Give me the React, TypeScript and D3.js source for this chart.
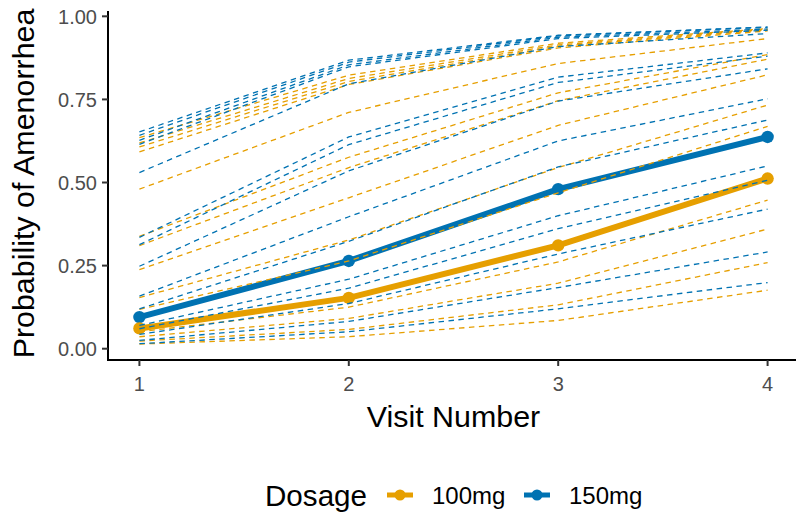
import * as d3 from "d3";

// visits on the x axis
const visits = [1, 2, 3, 4];
const yTicks = [0, 0.25, 0.5, 0.75, 1];
const doseLabels = ["100mg", "150mg"];
const doseColors = ["#E69F00", "#0072B2"];

// population-level fitted curves (thick lines)
const mean100 = [0.061, 0.153, 0.311, 0.512];
const mean150 = [0.095, 0.264, 0.48, 0.637];

// subject-level curves (dashed), 100mg
const subj100 = [
  [0.635, 0.823, 0.919, 0.963],
  [0.619, 0.813, 0.914, 0.961],
  [0.607, 0.804, 0.91, 0.959],
  [0.592, 0.795, 0.905, 0.956],
  [0.48, 0.711, 0.858, 0.933],
  [0.338, 0.576, 0.77, 0.885],
  [0.31, 0.545, 0.746, 0.871],
  [0.238, 0.454, 0.672, 0.824],
  [0.154, 0.327, 0.545, 0.733],
  [0.118, 0.264, 0.469, 0.669],
  [0.062, 0.155, 0.316, 0.517],
  [0.051, 0.125, 0.261, 0.447],
  [0.036, 0.091, 0.197, 0.36],
  [0.023, 0.058, 0.132, 0.259],
  [0.014, 0.036, 0.085, 0.176],
];

// subject-level curves (dashed), 150mg
const subj150 = [
  [0.652, 0.868, 0.943, 0.968],
  [0.642, 0.862, 0.941, 0.967],
  [0.627, 0.854, 0.937, 0.962],
  [0.615, 0.848, 0.933, 0.958],
  [0.53, 0.797, 0.909, 0.948],
  [0.335, 0.637, 0.817, 0.89],
  [0.313, 0.614, 0.801, 0.88],
  [0.248, 0.535, 0.745, 0.842],
  [0.158, 0.397, 0.625, 0.752],
  [0.12, 0.323, 0.547, 0.688],
  [0.07, 0.209, 0.4, 0.55],
  [0.06, 0.182, 0.361, 0.507],
  [0.043, 0.136, 0.285, 0.42],
  [0.025, 0.082, 0.184, 0.291],
  [0.015, 0.051, 0.12, 0.199],
];

const W = 796;
const H = 513;
const FONT = "'Liberation Sans', Arial, Helvetica, sans-serif";

export default function App() {
  const panel = { left: 108, right: 799, top: 11, bottom: 360 };

  const x = d3.scaleLinear().domain([0.85, 4.15]).range([panel.left, panel.right]);
  const y = d3.scaleLinear().domain([-0.034, 1.016]).range([panel.bottom, panel.top]);

  const line = d3
    .line<number>()
    .x((_, i) => x(visits[i]))
    .y((d) => y(d));

  const means = [mean100, mean150];
  const subjects = [subj100, subj150];

  return (
    <svg
      width={W}
      height={H}
      style={{ position: "absolute", left: 0, top: 0, background: "#fff" }}
      fontFamily={FONT}
    >
      {/* thick population curves + points */}
      {means.map((m, k) => (
        <path
          key={"m" + k}
          d={line(m) ?? ""}
          fill="none"
          stroke={doseColors[k]}
          strokeWidth={6}
        />
      ))}
      {[1, 0].map((k) =>
        means[k].map((v, i) => (
          <circle
            key={`p${k}-${i}`}
            cx={x(visits[i])}
            cy={y(v)}
            r={6.2}
            fill={doseColors[k]}
          />
        )),
      )}

      {/* subject curves, dashed */}
      {subjects.map((group, k) =>
        group.map((s, j) => (
          <path
            key={`s${k}-${j}`}
            d={line(s) ?? ""}
            fill="none"
            stroke={doseColors[k]}
            strokeWidth={1.3}
            strokeDasharray="5.5 4.5"
          />
        )),
      )}

      {/* axes */}
      <line x1={panel.left} x2={panel.left} y1={panel.top} y2={panel.bottom + 1} stroke="#000" strokeWidth={2} />
      <line x1={panel.left - 1} x2={panel.right} y1={panel.bottom} y2={panel.bottom} stroke="#000" strokeWidth={2} />

      {yTicks.map((t) => (
        <g key={"yt" + t}>
          <line x1={panel.left - 6} x2={panel.left} y1={y(t)} y2={y(t)} stroke="#333" strokeWidth={2} />
          <text x={panel.left - 11} y={y(t) + 7.3} textAnchor="end" fontSize={20} fill="#4D4D4D">
            {d3.format(".2f")(t)}
          </text>
        </g>
      ))}
      {visits.map((v) => (
        <g key={"xt" + v}>
          <line x1={x(v)} x2={x(v)} y1={panel.bottom} y2={panel.bottom + 6} stroke="#333" strokeWidth={2} />
          <text x={x(v)} y={panel.bottom + 31} textAnchor="middle" fontSize={20} fill="#4D4D4D">
            {v}
          </text>
        </g>
      ))}

      {/* axis titles */}
      <text x={(panel.left + panel.right) / 2} y={426.5} textAnchor="middle" fontSize={30.4} fill="#000">
        Visit Number
      </text>
      <text
        transform={`translate(33.5,${(panel.top + panel.bottom) / 2 - 2}) rotate(-90)`}
        textAnchor="middle"
        fontSize={30.4}
        fill="#000"
      >
        Probability of Amenorrhea
      </text>

      {/* legend */}
      <text x={265} y={506} fontSize={29.6} fill="#000">
        Dosage
      </text>
      {doseLabels.map((lab, k) => {
        const kx = [387, 524][k];
        return (
          <g key={"lg" + k}>
            <line x1={kx} x2={kx + 26} y1={495} y2={495} stroke={doseColors[k]} strokeWidth={5} />
            <circle cx={kx + 13} cy={495} r={5.5} fill={doseColors[k]} />
            <text x={kx + 45} y={503.5} fontSize={24} fill="#000">
              {lab}
            </text>
          </g>
        );
      })}
    </svg>
  );
}
